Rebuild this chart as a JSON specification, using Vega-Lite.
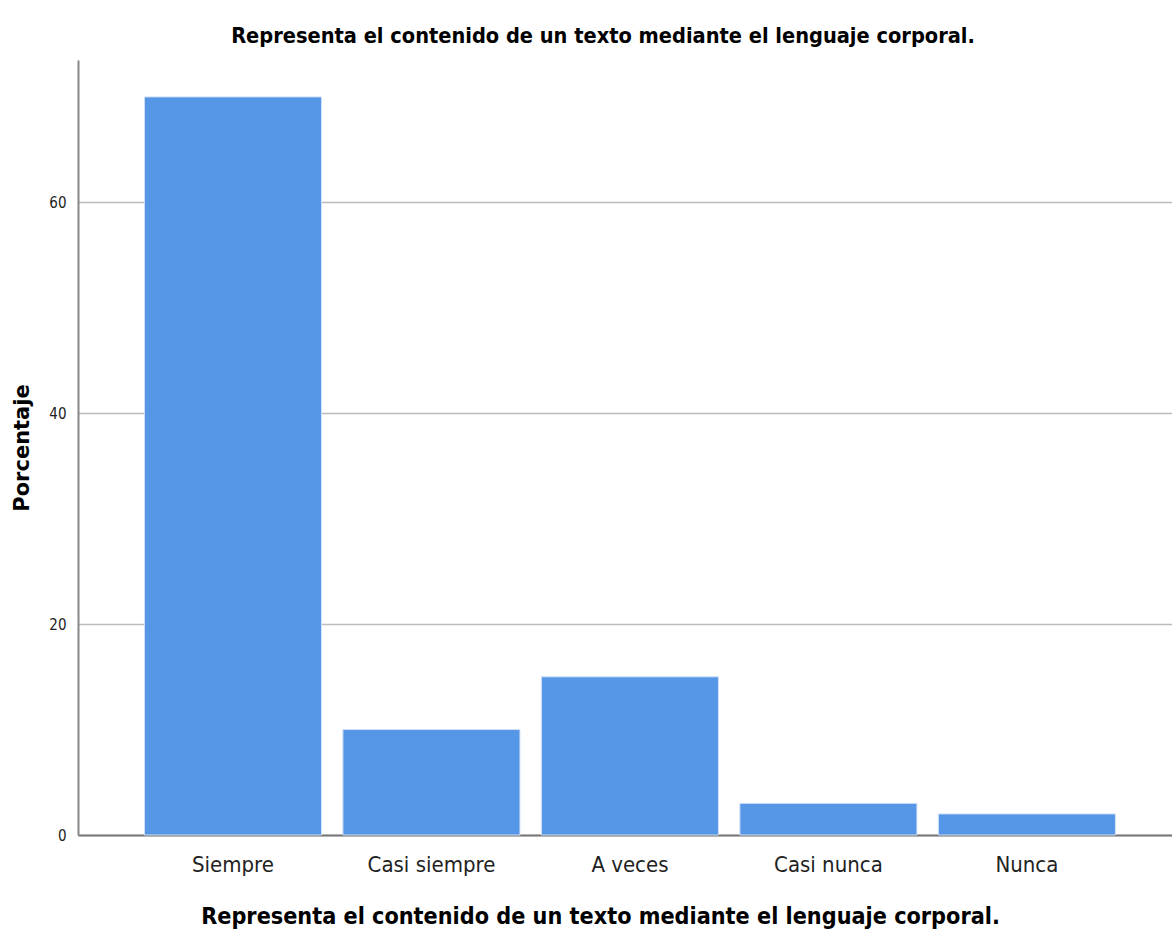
{
  "$schema": "https://vega.github.io/schema/vega-lite/v6.json",
  "autosize": "none",
  "width": 1094,
  "height": 775,
  "padding": {"left": 78, "top": 60, "right": 0, "bottom": 110},
  "background": "white",
  "title": {
    "text": "Representa el contenido de un texto mediante el lenguaje corporal.",
    "font": "DejaVu Sans Condensed, Liberation Sans, sans-serif",
    "fontSize": 21.6,
    "fontWeight": "bold",
    "color": "#000000",
    "anchor": "middle",
    "dx": -22,
    "offset": 12
  },
  "data": {
    "values": [
      {"categoria": "Siempre", "porcentaje": 70},
      {"categoria": "Casi siempre", "porcentaje": 10},
      {"categoria": "A veces", "porcentaje": 15},
      {"categoria": "Casi nunca", "porcentaje": 3},
      {"categoria": "Nunca", "porcentaje": 2}
    ]
  },
  "mark": {"type": "bar", "color": "#5596E6", "stroke": "#CFE0F7", "strokeWidth": 1},
  "encoding": {
    "x": {
      "field": "categoria",
      "type": "nominal",
      "sort": null,
      "scale": {"paddingInner": 0.108, "paddingOuter": 0.31, "align": 0.54},
      "axis": {
        "title": "Representa el contenido de un texto mediante el lenguaje corporal.",
        "titleFont": "DejaVu Sans Condensed, Liberation Sans, sans-serif",
        "titleFontSize": 23.2,
        "titleFontWeight": "bold",
        "titleColor": "#000000",
        "titlePadding": 30,
        "titleX": 522,
        "labelFont": "DejaVu Sans Condensed, Liberation Sans, sans-serif",
        "labelFontSize": 22,
        "labelColor": "#222222",
        "labelAngle": 0,
        "labelPadding": 19,
        "ticks": false,
        "domainColor": "#777777",
        "domainWidth": 2,
        "grid": false
      }
    },
    "y": {
      "field": "porcentaje",
      "type": "quantitative",
      "scale": {"domain": [0, 73.5], "nice": false},
      "axis": {
        "title": "Porcentaje",
        "titleFont": "DejaVu Sans",
        "titleFontSize": 21,
        "titleFontWeight": "bold",
        "titleColor": "#000000",
        "titlePadding": 16,
        "values": [0, 20, 40, 60],
        "labelFont": "DejaVu Sans Condensed, Liberation Sans, sans-serif",
        "labelFontSize": 15,
        "labelColor": "#222222",
        "labelPadding": 12,
        "ticks": false,
        "domainColor": "#888888",
        "domainWidth": 2,
        "grid": true,
        "gridColor": "#BBBBBB",
        "gridWidth": 1.5
      }
    }
  },
  "config": {"view": {"stroke": null}}
}
